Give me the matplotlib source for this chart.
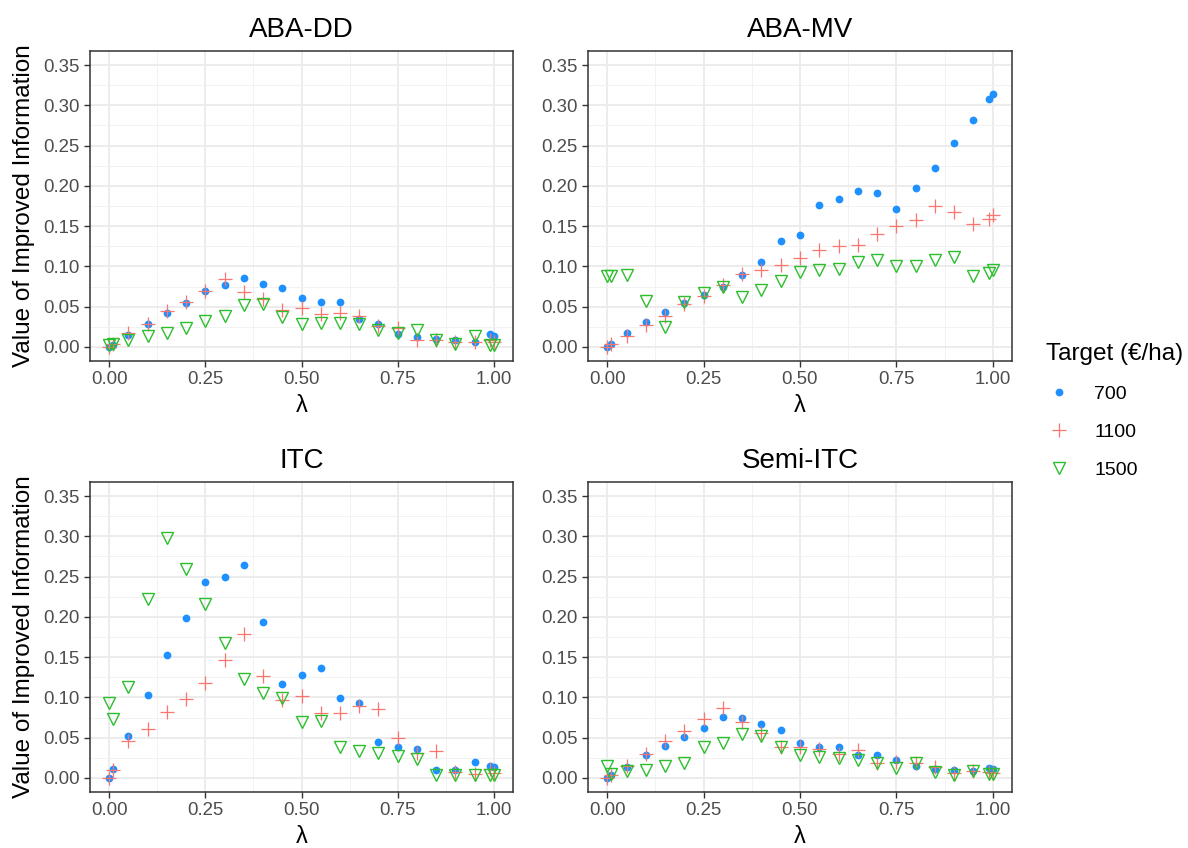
import numpy as np
from matplotlib import pyplot as plt
from matplotlib.lines import Line2D
from matplotlib.ticker import MultipleLocator

plt.rcParams['font.family'] = ['Liberation Sans', 'DejaVu Sans']

# lambda values shared by every panel
lam = [0.0, 0.01, 0.05, 0.10, 0.15, 0.20, 0.25, 0.30, 0.35, 0.40, 0.45, 0.50,
       0.55, 0.60, 0.65, 0.70, 0.75, 0.80, 0.85, 0.90, 0.95, 0.99, 1.00]

targets = ['700', '1100', '1500']

aba_dd_700 = [0.000, 0.002, 0.015, 0.028, 0.042, 0.055, 0.069, 0.077, 0.086, 0.078, 0.073, 0.061,
              0.056, 0.056, 0.035, 0.029, 0.016, 0.012, 0.010, 0.009, 0.006, 0.016, 0.014]
aba_dd_1100 = [0.000, 0.004, 0.017, 0.029, 0.044, 0.056, 0.070, 0.084, 0.068, 0.060, 0.046, 0.048,
               0.041, 0.042, 0.039, 0.026, 0.024, 0.008, 0.009, 0.006, 0.006, 0.008, 0.006]
aba_dd_1500 = [0.002, 0.003, 0.008, 0.013, 0.017, 0.024, 0.032, 0.039, 0.052, 0.053, 0.037, 0.029,
               0.030, 0.030, 0.029, 0.021, 0.017, 0.021, 0.008, 0.004, 0.013, 0.002, 0.002]

aba_mv_700 = [0.000, 0.003, 0.017, 0.031, 0.043, 0.054, 0.065, 0.075, 0.089, 0.106, 0.132, 0.139,
              0.176, 0.184, 0.194, 0.191, 0.171, 0.197, 0.222, 0.253, 0.282, 0.308, 0.314]
aba_mv_1100 = [0.000, 0.003, 0.013, 0.027, 0.039, 0.053, 0.063, 0.077, 0.090, 0.095, 0.102, 0.111,
               0.120, 0.125, 0.127, 0.140, 0.150, 0.157, 0.175, 0.168, 0.153, 0.159, 0.164]
aba_mv_1500 = [0.088, 0.088, 0.089, 0.057, 0.025, 0.056, 0.067, 0.074, 0.062, 0.071, 0.082, 0.093,
               0.096, 0.097, 0.105, 0.108, 0.100, 0.101, 0.108, 0.112, 0.088, 0.092, 0.096]

itc_700 = [0.000, 0.011, 0.052, 0.103, 0.153, 0.199, 0.243, 0.250, 0.265, 0.194, 0.117, 0.128,
           0.137, 0.099, 0.093, 0.044, 0.039, 0.036, 0.010, 0.010, 0.020, 0.015, 0.014]
itc_1100 = [0.000, 0.010, 0.046, 0.061, 0.082, 0.098, 0.118, 0.146, 0.179, 0.126, 0.097, 0.102,
            0.080, 0.080, 0.089, 0.086, 0.049, 0.031, 0.034, 0.007, 0.005, 0.011, 0.006]
itc_1500 = [0.093, 0.073, 0.113, 0.222, 0.298, 0.260, 0.216, 0.167, 0.123, 0.105, 0.099, 0.069,
            0.071, 0.039, 0.033, 0.031, 0.027, 0.023, 0.004, 0.004, 0.003, 0.003, 0.003]

semi_700 = [0.000, 0.004, 0.013, 0.028, 0.040, 0.051, 0.062, 0.076, 0.074, 0.067, 0.059, 0.043,
            0.039, 0.039, 0.029, 0.028, 0.022, 0.015, 0.011, 0.010, 0.008, 0.012, 0.011]
semi_1100 = [0.000, 0.003, 0.015, 0.030, 0.046, 0.058, 0.073, 0.087, 0.069, 0.056, 0.039, 0.039,
             0.036, 0.030, 0.035, 0.019, 0.020, 0.019, 0.014, 0.006, 0.008, 0.007, 0.006]
semi_1500 = [0.015, 0.005, 0.009, 0.010, 0.015, 0.019, 0.039, 0.043, 0.055, 0.052, 0.038, 0.028,
             0.026, 0.025, 0.022, 0.019, 0.012, 0.019, 0.007, 0.004, 0.008, 0.005, 0.005]

panels = [
    ('ABA-DD', [aba_dd_700, aba_dd_1100, aba_dd_1500]),
    ('ABA-MV', [aba_mv_700, aba_mv_1100, aba_mv_1500]),
    ('ITC', [itc_700, itc_1100, itc_1500]),
    ('Semi-ITC', [semi_700, semi_1100, semi_1500]),
]

colors = ['#1E90FF', '#F8766D', '#2DBE2D']
W, H = 1188, 848
# panel rectangles in pixels: left, top, right, bottom
rects = [(90, 51, 513, 361), (588, 51, 1012, 361),
         (90, 482, 513, 792), (588, 482, 1012, 792)]

marker_kw = [
    dict(marker='o', ms=5.6, color=colors[0], mec='none'),
    dict(marker='+', ms=10, mew=0.9, color=colors[1]),
    dict(marker='v', ms=8.8, mfc='none', mew=1.0, mec=colors[2]),
]

fig = plt.figure(figsize=(W / 100, H / 100), dpi=100)

for i, ((title, series), (l, t, r, b)) in enumerate(zip(panels, rects)):
    ax = fig.add_axes([l / W, 1 - b / H, (r - l) / W, (b - t) / H])
    for k, y in enumerate(series):
        ax.plot(lam, y, ls='none', zorder=3, **marker_kw[k])
    ax.set_xlim(-0.05, 1.05)
    ax.set_ylim(-0.0175, 0.3675)
    ax.xaxis.set_major_locator(MultipleLocator(0.25))
    ax.xaxis.set_minor_locator(MultipleLocator(0.125))
    ax.yaxis.set_major_locator(MultipleLocator(0.05))
    ax.yaxis.set_minor_locator(MultipleLocator(0.025))
    ax.xaxis.set_major_formatter(lambda v, p: f'{v:.2f}')
    ax.yaxis.set_major_formatter(lambda v, p: f'{v:.2f}')
    ax.grid(which='major', color='#EBEBEB', lw=1.3, zorder=0)
    ax.grid(which='minor', color='#F2F2F2', lw=0.7, zorder=0)
    ax.set_axisbelow(True)
    ax.tick_params(which='major', length=4.5, width=1, color='#333333',
                   labelsize=13.4, labelcolor='#4D4D4D', pad=3)
    ax.tick_params(which='minor', length=0)
    for s in ax.spines.values():
        s.set_color('#333333')
        s.set_linewidth(1.1)
    ax.set_title(title, fontsize=20, pad=10)
    ax.set_xlabel('λ', fontsize=17, labelpad=5)
    if i % 2 == 0:
        ax.set_ylabel('Value of Improved Information', fontsize=17.5, labelpad=6)

# legend
handles = [Line2D([], [], ls='none', **kw) for kw in marker_kw]
fig.legend(handles, targets, title='Target (€/ha)', loc='upper left',
           bbox_to_anchor=(1038 / W, 1 - 335 / H), frameon=False,
           fontsize=14, title_fontsize=17.5, labelspacing=1.05,
           handletextpad=1.1, handlelength=1.4, borderaxespad=0,
           alignment='left')

fig.savefig('out.png', dpi=100)
